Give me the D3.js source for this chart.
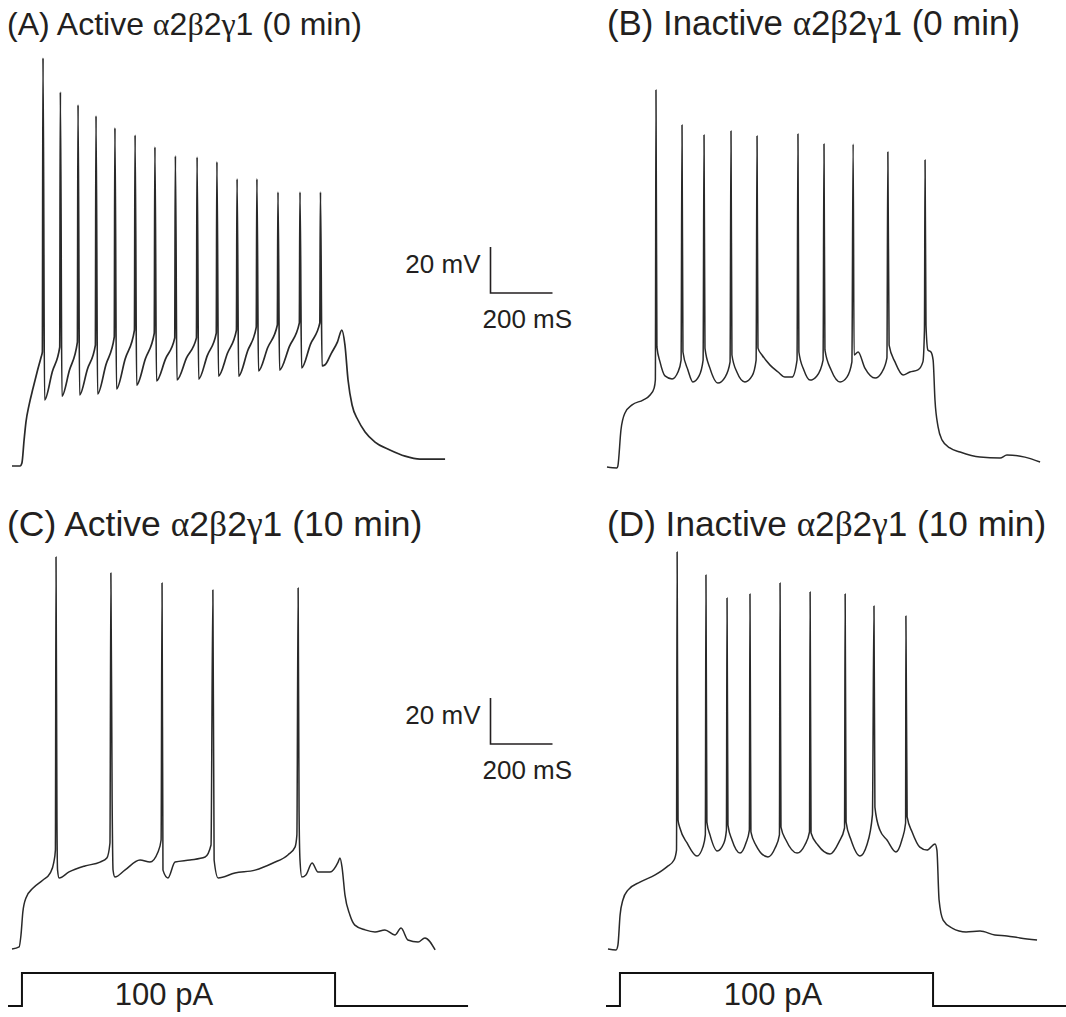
<!DOCTYPE html>
<html>
<head>
<meta charset="utf-8">
<script src="https://cdn.jsdelivr.net/npm/d3@7/dist/d3.min.js"></script>
<style>
  body { margin: 0; background: #fff; }
  text { font-family: "Liberation Sans", Arial, sans-serif; fill: #231f20; }
  .greek { font-family: "Liberation Serif", "Times New Roman", serif; }
</style>
</head>
<body>
<svg id="fig" width="1066" height="1017"></svg>
<script>
// each trace: [time in ms from start of sweep, membrane potential in mV above rest]
const traceA = [
  [0,0],[26,0],[32,1.3],[39,11.3],[45,19.1],[55,26.5],[68,33.9],[81,40.9],[94,47.4],[98,49.6],
  [100,177.4],[105,28.7],[130,41],
  [154,51.7],[156,162.6],[161,30.4],[185,41.5],
  [211,53.9],[213,157],[218,30.9],[243,42],
  [269,52.6],[271,152.2],[276,31.3],[303,44],
  [330,56.1],[332,147],[337,33.5],[365,46.5],
  [395,59.1],[397,143.9],[402,35.2],[430,46.5],
  [459,57.8],[461,138.7],[466,37],[495,46.5],
  [525,55.7],[527,134.8],[532,37.4],[563,47],
  [595,55.7],[597,134.3],[602,37.8],[630,48],
  [659,57.8],[661,132.2],[666,39.1],[695,49],
  [724,59.1],[726,124.8],[731,39.1],[760,50],
  [788,60.4],[790,124.8],[795,41.3],[825,51.5],
  [856,61.3],[858,119.1],[863,41.7],[895,52],
  [927,62.2],[929,119.1],[934,42.6],[963,53],
  [993,62.2],[995,119.1],[1000,43.5],
  [1010,44],[1030,49],[1050,54],[1064,59.1],[1074,52.6],[1084,37.4],[1097,26.5],[1116,20],
  [1139,14.8],[1171,10.4],[1219,7],[1268,4.3],[1316,3],[1397,3]
];

const traceB = [
  [0,0],[32,-0.4],[35,0.4],[45,16.1],[58,23.5],[81,27],[116,29.1],[139,31.3],[152,34.3],[156,37.8],
  [158,163.9],[161,52.2],[171,45.7],[187,39.6],[210,38.3],[229,41.3],[239,46.5],
  [242,148.7],[245,50],[261,42.2],[277,37],[297,39.6],[310,46.5],
  [313,144.3],[316,51.7],[332,43],[358,36.5],[381,39.1],[397,45.7],
  [400,146.1],[403,48.7],[419,41.3],[445,37],[468,39.6],[481,46.5],
  [484,143.9],[487,51.7],[500,48.7],[526,44.3],[552,41.3],[574,39.1],[597,39.1],[613,46.5],
  [616,144.8],[619,50],[635,42.2],[655,37.8],[677,39.6],[697,46.5],
  [700,140.4],[703,50.9],[723,42.2],[752,37],[774,39.1],[790,45.7],
  [794,140.4],[797,48.7],[810,50],[832,43],[865,38.7],[887,41.3],[903,47.4],
  [906,137],[910,53],[929,45.7],[955,40],[977,41.3],[1003,42.2],[1019,45.7],[1024,59.6],
  [1026,133.5],[1029,61.7],[1035,50.9],[1045,50],[1052,46.5],[1058,29.1],[1068,17.4],[1081,11.7],
  [1106,8.3],[1139,6.5],[1203,4.3],[1268,3.9],[1290,5.2],[1348,4.3],[1397,2.2]
];

const traceC = [
  [0,0],[23,0.9],[29,6.1],[35,16.1],[45,22.2],[68,26.5],[100,30],[123,33],[135,37.8],[140,43],
  [142,170.4],[145,56.1],[147,34.3],[152,30.9],[184,33.5],[235,36.1],[284,37.8],[306,39.6],[316,46.1],
  [319,163.5],[323,64.8],[326,34.3],[332,31.3],[364,34.3],[413,38.7],[445,37.8],[471,42.2],[481,47.4],
  [484,159.1],[487,34.3],[503,30.9],[526,37.8],[574,38.7],[623,40],[642,45.2],
  [648,156.1],[652,38.7],[665,30.9],[719,33],[784,34.3],[842,37.4],[890,40.9],[913,44.3],[919,49.6],
  [923,157],[926,60.4],[929,38.7],[935,31.3],[948,32.2],[968,37.4],[987,33.5],[1026,33.5],[1052,37.8],
  [1058,39.6],[1065,35.2],[1074,23.5],[1090,14.8],[1106,10.4],[1139,8.3],[1171,7.4],[1203,8.3],
  [1235,6.1],[1255,9.1],[1277,3.9],[1310,3],[1332,4.8],[1365,-0.4]
];

const traceD = [
  [0,0],[26,-0.4],[32,1.7],[39,14.8],[48,21.3],[65,25.7],[103,29.1],[152,32.2],[190,35.7],[213,38.7],[221,43],
  [223,172.6],[226,56.1],[232,52.6],[255,46.1],[287,40.4],[306,44.3],[314,49.6],
  [316,162.6],[319,55.2],[329,49.6],[352,42.6],[374,46.1],[382,51.7],
  [384,152.6],[387,53.9],[400,47.4],[426,41.7],[445,46.1],[456,51.7],
  [458,154.3],[461,50.9],[477,45.2],[516,40],[539,43.9],[553,49.6],
  [555,159.1],[558,53],[574,47.4],[610,41.7],[635,45.2],[650,50.9],
  [652,155.2],[655,50.4],[677,45.2],[716,41.3],[745,46.5],[763,52.6],
  [765,154.3],[768,55.2],[784,47.4],[813,40.4],[835,45.2],[853,58.3],
  [858,149.1],[861,61.7],[877,51.7],[900,47.4],[929,42.2],[948,47.4],[960,54.8],
  [961,144.8],[965,57.4],[981,50.9],[1006,44.3],[1029,43],[1055,45.7],[1061,43],[1068,21.3],
  [1081,12.6],[1110,9.1],[1155,7.4],[1200,7.8],[1248,6.1],[1287,5.7],[1329,4.8],[1384,3.9]
];

// injected current step: [ms, pA]
const stimulus = [[0,0],[45,0],[45,100],[1055,100],[1055,0],[1484,0]];
const stimLabel = "100 pA";

const panelTitles = [
  ["(A) Active ", "1 (0 min)"],
  ["(B) Inactive ", "1 (0 min)"],
  ["(C) Active ", "1 (10 min)"],
  ["(D) Inactive ", "1 (10 min)"]
];
const scaleBarMv = 20, scaleBarMs = 200;
const scaleBarLabels = ["20 mV", "200 mS"];

// layout
const PX_PER_MS = 0.31, PX_PER_MV = 2.3;
const svg = d3.select("#fig");

const panels = [
  {trace: traceA, title: panelTitles[0], x0: 12, y0: 466, tx: 7, ty: 35, fs: 32, sw: 1.7},
  {trace: traceB, title: panelTitles[1], x0: 607, y0: 467, tx: 607, ty: 35, fs: 34.8, sw: 1.5},
  {trace: traceC, title: panelTitles[2], x0: 12, y0: 949, tx: 7, ty: 536, fs: 35.5, sw: 1.5},
  {trace: traceD, title: panelTitles[3], x0: 608, y0: 949, tx: 607, ty: 536, fs: 35.2, sw: 1.5}
];

panels.forEach(p => {
  const x = d3.scaleLinear().domain([0, 1000]).range([p.x0, p.x0 + 1000 * PX_PER_MS]);
  const y = d3.scaleLinear().domain([0, 100]).range([p.y0, p.y0 - 100 * PX_PER_MV]);
  svg.append("path")
    .datum(p.trace)
    .attr("d", d3.line().curve(d3.curveMonotoneX).x(d => x(d[0])).y(d => y(d[1])))
    .attr("fill", "none")
    .attr("stroke", "#292929")
    .attr("stroke-width", p.sw)
    .attr("stroke-linejoin", "round");

  const t = svg.append("text").attr("x", p.tx).attr("y", p.ty).style("font-size", p.fs + "px");
  t.append("tspan").text(p.title[0]);
  t.append("tspan").attr("class", "greek").text("\u03b1");
  t.append("tspan").text("2");
  t.append("tspan").attr("class", "greek").text("\u03b2");
  t.append("tspan").text("2");
  t.append("tspan").attr("class", "greek").text("\u03b3");
  t.append("tspan").text(p.title[1]);
});

// scale bars
[{x: 490.5, y: 293}, {x: 490.5, y: 744}].forEach(b => {
  const sx = d3.scaleLinear().domain([0, 1000]).range([b.x, b.x + 1000 * PX_PER_MS]);
  const sy = d3.scaleLinear().domain([0, 100]).range([b.y, b.y - 100 * PX_PER_MV]);
  svg.append("path")
    .attr("d", d3.line()([[sx(0), sy(scaleBarMv)], [sx(0), sy(0)], [sx(scaleBarMs), sy(0)]]))
    .attr("fill", "none").attr("stroke", "#231f20").attr("stroke-width", 1.6);
  svg.append("text").attr("x", b.x - 10).attr("y", b.y - 20)
    .attr("text-anchor", "end").style("font-size", "26px").text(scaleBarLabels[0]);
  svg.append("text").attr("x", b.x - 8).attr("y", b.y + 35)
    .style("font-size", "26px").text(scaleBarLabels[1]);
});

// current steps under the bottom row
[{x0: 8, labelX: 164}, {x0: 606, labelX: 773}].forEach(s => {
  const x = d3.scaleLinear().domain([0, 1000]).range([s.x0, s.x0 + 1000 * PX_PER_MS]);
  const y = d3.scaleLinear().domain([0, 100]).range([1006, 973]);
  svg.append("path")
    .datum(stimulus)
    .attr("d", d3.line().x(d => x(d[0])).y(d => y(d[1])))
    .attr("fill", "none").attr("stroke", "#111").attr("stroke-width", 2);
  svg.append("text")
    .attr("x", s.labelX).attr("y", 1005)
    .attr("text-anchor", "middle").style("font-size", "31px").text(stimLabel);
});
</script>
</body>
</html>
